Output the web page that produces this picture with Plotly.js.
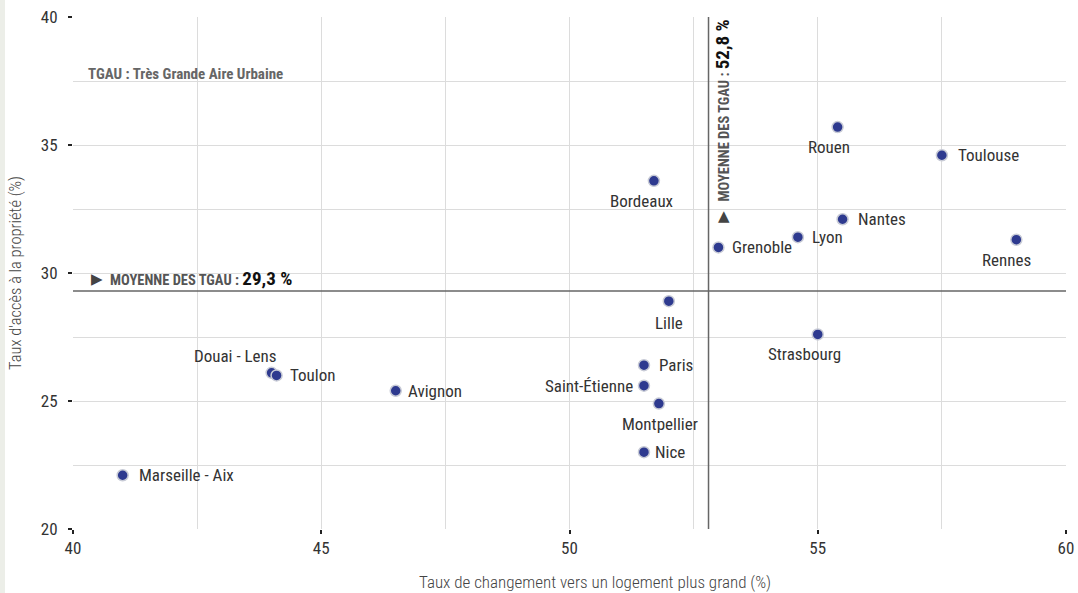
<!DOCTYPE html>
<html><head><meta charset="utf-8">
<script src="https://cdn.plot.ly/plotly-3.0.1.min.js"></script>
<style>
html,body{margin:0;padding:0;background:#fff;}
#strip{position:absolute;left:0;top:0;width:5px;height:593px;background:#eceee8;}
#chart{width:1078px;height:593px;}
</style></head>
<body><div id="strip"></div><div id="chart"></div>
<script>
const cities = ["Marseille - Aix","Douai - Lens","Toulon","Avignon","Paris","Saint-Étienne","Montpellier","Nice","Lille","Bordeaux","Grenoble","Lyon","Nantes","Rouen","Toulouse","Rennes","Strasbourg"];
const changeRate = [41.0,44.0,44.1,46.5,51.5,51.5,51.8,51.5,52.0,51.7,53.0,54.6,55.5,55.4,57.5,59.0,55.0];
const ownershipRate = [22.1,26.1,26.0,25.4,26.4,25.6,24.9,23.0,28.9,33.6,31.0,31.4,32.1,35.7,34.6,31.3,27.6];
const meanX = 52.8, meanY = 29.3;
const xTitle = "Taux de changement vers un logement plus grand (%)";
const yTitle = "Taux d'accès à la propriété (%)";
const note = "TGAU : Très Grande Aire Urbaine";

// label placement (layout only): side and pixel shift
const labelPlacement = {
  "Marseille - Aix": ['r', 14, 0], "Douai - Lens": ['tl', 7, 17], "Toulon": ['r', 11, 0],
  "Avignon": ['r', 10, 0], "Paris": ['r', 13, 0], "Saint-Étienne": ['l', -9, 0],
  "Montpellier": ['b', 1, -20], "Nice": ['r', 9, 0], "Lille": ['b', 0, -22],
  "Bordeaux": ['b', -12, -20], "Grenoble": ['r', 12, 0], "Lyon": ['r', 12, 0],
  "Nantes": ['r', 13, 0], "Rouen": ['b', -9, -20], "Toulouse": ['r', 14, 0],
  "Rennes": ['b', -10, -20], "Strasbourg": ['b', -13, -20]
};

const FONT = "'Roboto Condensed', 'Liberation Sans Narrow', Roboto, sans-serif";

const trace = {
  x: changeRate, y: ownershipRate, text: cities,
  type: 'scatter', mode: 'markers',
  marker: {size: 11, color: '#2e3a8f', line: {color: '#c8cbd6', width: 1.5}},
  hoverinfo: 'x+y+text', cliponaxis: false
};

const labelAnns = cities.map((c, i) => {
  const p = labelPlacement[c];
  const a = {xref: 'x', yref: 'y', x: changeRate[i], y: ownershipRate[i], text: c, showarrow: false,
    font: {family: FONT, size: 17, color: '#333'}, xshift: p[1], yshift: p[2], yanchor: 'middle'};
  if (p[0] === 'r') a.xanchor = 'left';
  else if (p[0] === 'l' || p[0] === 'tl') a.xanchor = 'right';
  else a.xanchor = 'center';
  return a;
});

const layout = {
  width: 1078, height: 593,
  margin: {l: 73, r: 12, t: 17, b: 64},
  paper_bgcolor: 'rgba(0,0,0,0)', plot_bgcolor: '#fff',
  showlegend: false,
  font: {family: FONT, color: '#333'},
  xaxis: {
    range: [40, 60], dtick: 5, tick0: 40, showgrid: true, gridcolor: '#dcdcdc', gridwidth: 1,
    minor: {dtick: 2.5, showgrid: true, gridcolor: '#dcdcdc'},
    zeroline: false, showline: false, ticks: 'outside', ticklen: 4, tickwidth: 2, tickcolor: '#222',
    tickfont: {family: FONT, size: 17, color: '#333'},
    fixedrange: true
  },
  yaxis: {
    range: [20, 40], dtick: 5, tick0: 20, showgrid: true, gridcolor: '#dcdcdc', gridwidth: 1,
    minor: {dtick: 2.5, showgrid: true, gridcolor: '#dcdcdc'},
    zeroline: false, showline: false, ticks: 'outside', ticklen: 4, tickwidth: 2, tickcolor: '#222',
    ticklabelstandoff: 7,
    tickfont: {family: FONT, size: 17, color: '#333'},
    title: {text: yTitle, font: {family: FONT, size: 16.5, weight: 300, color: '#444'}, standoff: 15},
    fixedrange: true
  },
  shapes: [
    {type: 'line', xref: 'x', yref: 'paper', x0: meanX, x1: meanX, y0: 0, y1: 1, line: {color: '#666', width: 1.5}},
    {type: 'line', xref: 'paper', yref: 'y', x0: 0, x1: 1, y0: meanY, y1: meanY, line: {color: '#666', width: 1.5}}
  ],
  annotations: labelAnns.concat([
    {xref: 'paper', yref: 'paper', x: 0.526, y: -0.1035, xanchor: 'center', yanchor: 'middle', showarrow: false,
     text: xTitle, font: {family: FONT, size: 17, weight: 300, color: '#444'}},
    {xref: 'paper', yref: 'paper', x: 0.0131, y: 0.889, xanchor: 'left', yanchor: 'middle', showarrow: false,
     text: '<b>' + note + '</b>', font: {family: FONT, size: 15, color: '#666'}},
    {xref: 'paper', yref: 'y', x: 0.0245, y: meanY, yshift: 12, xanchor: 'center', yanchor: 'middle', showarrow: false,
     text: '▶', font: {family: 'DejaVu Sans', size: 15, color: '#444'}},
    {xref: 'paper', yref: 'y', x: 0.0352, y: meanY, yshift: 12, xanchor: 'left', yanchor: 'middle', showarrow: false,
     text: '<b>MOYENNE DES TGAU : </b><b><span style="font-size:19px;color:#111">' + String(meanY).replace('.', ',') + ' %</span></b>',
     font: {family: FONT, size: 14.5, color: '#555'}},
    {xref: 'x', yref: 'paper', x: meanX, xshift: 14, y: 0.998, xanchor: 'center', yanchor: 'top', textangle: -90, showarrow: false,
     text: '<b>MOYENNE DES TGAU : </b><b><span style="font-size:19px;color:#111">' + String(meanX).replace('.', ',') + ' %</span></b>',
     font: {family: FONT, size: 14.5, color: '#555'}},
    {xref: 'x', yref: 'y', x: meanX, xshift: 15, y: 32.23, xanchor: 'center', yanchor: 'middle', showarrow: false,
     text: '▲', font: {family: 'DejaVu Sans', size: 15, color: '#444'}}
  ])
};

Plotly.newPlot('chart', [trace], layout, {displayModeBar: false, staticPlot: true});
</script></body></html>
